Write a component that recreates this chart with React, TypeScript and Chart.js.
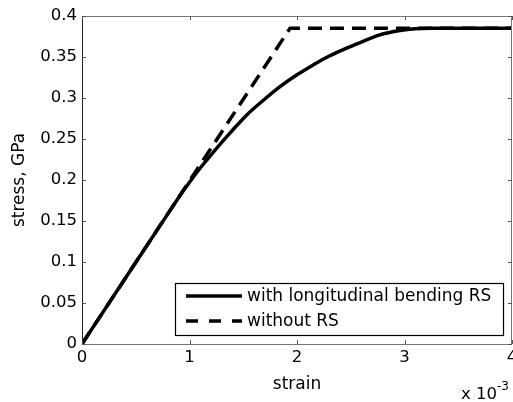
import { useEffect, useRef } from "react";
import { Chart, registerables } from "chart.js";

Chart.register(...registerables);

// strain in units of 1e-3, stress in GPa
const strainSolid = [0, 0.4, 0.8, 0.9, 1.0, 1.1, 1.22, 1.38, 1.533, 1.69, 1.842, 2.0, 2.151, 2.3, 2.461, 2.62, 2.771, 2.9, 2.99, 3.1, 3.25, 4.0];
const stressSolid = [0, 0.0795, 0.159, 0.1787, 0.1972, 0.2146, 0.2338, 0.2578, 0.2794, 0.2976, 0.3139, 0.3283, 0.3403, 0.3512, 0.3607, 0.3695, 0.3769, 0.381, 0.383, 0.3845, 0.385, 0.385];
const strainDashed = [0, 1.935, 4.0];
const stressDashed = [0, 0.385, 0.385];
const seriesLabels = ["with longitudinal bending RS", "without RS"];
const xTicks = [0, 1, 2, 3, 4];
const yTicks = [0, 0.05, 0.1, 0.15, 0.2, 0.25, 0.3, 0.35, 0.4];
const yTickLabels = ["0", "0.05", "0.1", "0.15", "0.2", "0.25", "0.3", "0.35", "0.4"];
const xTitle = "strain";
const yTitle = "stress, GPa";

const FONT = "'DejaVu Sans', sans-serif";

const boxPlugin = {
  id: "matlabBox",
  afterDatasetsDraw(chart: any) {
    const { ctx, chartArea } = chart;
    const { left, right, top, bottom } = chartArea;
    const xs = chart.scales.x;
    const ys = chart.scales.y;
    ctx.save();
    // box
    ctx.lineWidth = 1;
    ctx.strokeStyle = "#777";
    ctx.beginPath();
    ctx.moveTo(left, top + 0.5);
    ctx.lineTo(right - 0.5, top + 0.5);
    ctx.lineTo(right - 0.5, bottom + 0.5);
    ctx.lineTo(left, bottom + 0.5);
    ctx.stroke();
    ctx.strokeStyle = "#222";
    ctx.beginPath();
    ctx.moveTo(left + 0.5, top);
    ctx.lineTo(left + 0.5, bottom + 1);
    ctx.stroke();
    // inward ticks
    const tl = 4;
    ctx.strokeStyle = "#555";
    ctx.beginPath();
    for (const v of xTicks) {
      const px = Math.round(xs.getPixelForValue(v)) + 0.5;
      ctx.moveTo(px, bottom);
      ctx.lineTo(px, bottom - tl);
      ctx.moveTo(px, top);
      ctx.lineTo(px, top + tl);
    }
    for (const v of yTicks) {
      const py = Math.round(ys.getPixelForValue(v)) + 0.5;
      ctx.moveTo(left, py);
      ctx.lineTo(left + tl, py);
      ctx.moveTo(right, py);
      ctx.lineTo(right - tl, py);
    }
    ctx.stroke();

    // legend
    const lx0 = 175, ly0 = 283, lx1 = 503, ly1 = 335;
    ctx.fillStyle = "#fff";
    ctx.fillRect(lx0, ly0, lx1 - lx0, ly1 - ly0);
    ctx.strokeStyle = "#000";
    ctx.lineWidth = 1.2;
    ctx.strokeRect(lx0 + 0.5, ly0 + 0.5, lx1 - lx0, ly1 - ly0);
    const rows = [296, 321];
    const dashes = [[], [12, 11]];
    ctx.font = `17px ${FONT}`;
    ctx.textBaseline = "middle";
    ctx.textAlign = "left";
    for (let i = 0; i < 2; i++) {
      ctx.beginPath();
      ctx.setLineDash(dashes[i]);
      ctx.lineWidth = 3.5;
      ctx.strokeStyle = "#000";
      ctx.moveTo(186, rows[i]);
      ctx.lineTo(242, rows[i]);
      ctx.stroke();
      ctx.setLineDash([]);
      ctx.fillStyle = "#000";
      ctx.fillText(seriesLabels[i], 247, rows[i] + 1);
    }

    // axis titles
    ctx.fillStyle = "#000";
    ctx.font = `17px ${FONT}`;
    ctx.textAlign = "center";
    ctx.textBaseline = "middle";
    ctx.fillText(xTitle, (left + right) / 2, 385);
    ctx.save();
    ctx.translate(20, (top + bottom) / 2);
    ctx.rotate(-Math.PI / 2);
    ctx.fillText(yTitle, 0, 0);
    ctx.restore();

    // exponent
    ctx.textAlign = "left";
    ctx.textBaseline = "alphabetic";
    ctx.font = `16.5px ${FONT}`;
    ctx.fillText("x 10", 461, 399);
    ctx.font = `12px ${FONT}`;
    ctx.fillText("-3", 497, 390);
    ctx.restore();
  },
};

export default function App() {
  const ref = useRef<HTMLCanvasElement | null>(null);
  useEffect(() => {
    document.body.style.margin = "0";
    const canvas = ref.current!;
    const chart = new Chart(canvas, {
      type: "line",
      data: {
        datasets: [
          {
            label: seriesLabels[0],
            data: strainSolid.map((x, i) => ({ x, y: stressSolid[i] })),
            borderColor: "#000",
            borderWidth: 3.5,
            pointRadius: 0,
            cubicInterpolationMode: "monotone",
            fill: false,
          },
          {
            label: seriesLabels[1],
            data: strainDashed.map((x, i) => ({ x, y: stressDashed[i] })),
            borderColor: "#000",
            borderWidth: 3.5,
            borderDash: [14, 8],
            pointRadius: 0,
            tension: 0,
            fill: false,
          },
        ],
      },
      options: {
        animation: false,
        responsive: false,
        maintainAspectRatio: false,
        layout: { padding: { top: 16, right: 1, left: 0, bottom: 0 } },
        plugins: {
          legend: { display: false },
          tooltip: { enabled: false },
        },
        scales: {
          x: {
            type: "linear",
            min: 0,
            max: 4,
            grid: { display: false, drawTicks: false },
            border: { display: false },
            afterBuildTicks: (s: any) => {
              s.ticks = xTicks.map((v) => ({ value: v }));
            },
            afterFit: (s: any) => {
              s.height = 58;
              s.paddingLeft = 0;
              s.paddingRight = 0;
            },
            ticks: {
              color: "#000",
              font: { family: FONT, size: 16.5 },
              padding: 4,
              maxRotation: 0,
              autoSkip: false,
              callback: (v: any) => String(v),
            },
          },
          y: {
            type: "linear",
            min: 0,
            max: 0.4,
            grid: { display: false, drawTicks: false },
            border: { display: false },
            afterBuildTicks: (s: any) => {
              s.ticks = yTicks.map((v) => ({ value: v }));
            },
            afterFit: (s: any) => {
              s.width = 82;
              s.paddingTop = 0;
              s.paddingBottom = 0;
            },
            ticks: {
              color: "#000",
              font: { family: FONT, size: 16.5 },
              padding: 5,
              autoSkip: false,
              callback: (_v: any, i: number) => yTickLabels[i],
            },
          },
        },
      },
      plugins: [boxPlugin],
    } as any);
    return () => chart.destroy();
  }, []);
  return (
    <div style={{ position: "absolute", left: 0, top: 0, width: 513, height: 402 }}>
      <canvas ref={ref} width={513} height={402} style={{ width: 513, height: 402, display: "block" }} />
    </div>
  );
}
